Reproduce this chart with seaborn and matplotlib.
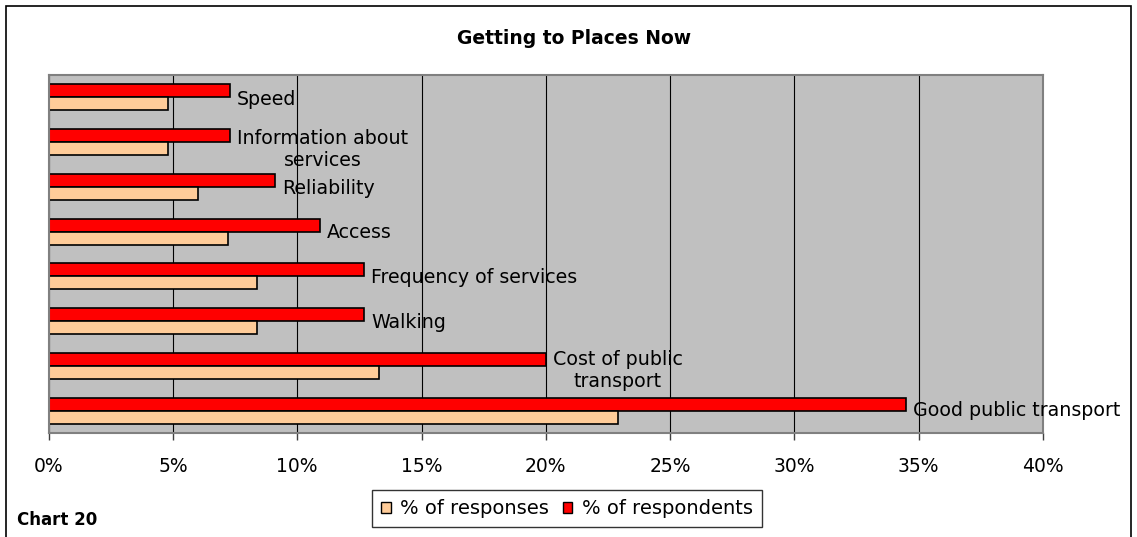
import matplotlib
matplotlib.use('Agg')
import matplotlib.pyplot as plt
import seaborn as sns
import pandas as pd
from matplotlib.patches import Patch, Rectangle
from matplotlib.ticker import PercentFormatter

# values (percent)
categories = ['Speed', 'Information about services', 'Reliability', 'Access',
              'Frequency of services', 'Walking', 'Cost of public transport',
              'Good public transport']
label_text = ['Speed', 'Information about\nservices', 'Reliability', 'Access',
              'Frequency of services', 'Walking', 'Cost of public\ntransport',
              'Good public transport']
respondents = [7.3, 7.3, 9.1, 10.9, 12.7, 12.7, 20.0, 34.5]
responses = [4.8, 4.8, 6.0, 7.2, 8.4, 8.4, 13.3, 22.9]

# vertical nudge of each bar label (points)
label_dy = [-1.5, -5.4, -1.5, -1.0, -1.0, -1.0, -2.9, 0.0]

red = '#FF0000'
peach = '#FFCC99'

df = pd.DataFrame({
    'Category': categories * 2,
    'Value': respondents + responses,
    'Series': ['% of respondents'] * len(categories) + ['% of responses'] * len(categories),
})

fig = plt.figure(figsize=(11.37, 5.37), dpi=100)
ax = fig.add_axes([0.0428, 0.1931, 0.8745, 0.6678])

sns.barplot(data=df, y='Category', x='Value', hue='Series',
            hue_order=['% of respondents', '% of responses'],
            palette={'% of respondents': red, '% of responses': peach},
            orient='h', width=0.58, saturation=1, edgecolor='black',
            linewidth=1.2, legend=False, ax=ax)

ax.set_facecolor('#C0C0C0')
ax.set_xlim(0, 40)
ax.set_xticks(range(0, 41, 5))
ax.xaxis.set_major_formatter(PercentFormatter(xmax=100, decimals=0))
ax.xaxis.grid(True, color='black', linewidth=0.8)
ax.set_axisbelow(True)
ax.set_xlabel('')
ax.set_ylabel('')
for s in ax.spines.values():
    s.set_color('#808080')
    s.set_linewidth(1.5)
ax.tick_params(axis='x', length=5, width=1, color='#404040', pad=12, labelsize=13.5)
ax.tick_params(axis='y', left=False, labelleft=False)

# category names next to the red bars
for i, (lab, val, dy) in enumerate(zip(label_text, respondents, label_dy)):
    ax.annotate(lab, xy=(val, i), xytext=(5, dy), textcoords='offset points',
                ha='left', va='center', multialignment='center', fontsize=13.7)

fig.text(0.5053, 0.9287, 'Getting to Places Now', ha='center', va='center',
         fontsize=13.5, fontweight='bold')
fig.text(0.015, 0.0317, 'Chart 20', ha='left', va='center',
         fontsize=12, fontweight='bold')

handles = [Patch(facecolor=peach, edgecolor='black'),
           Patch(facecolor=red, edgecolor='black')]
leg = fig.legend(handles, ['% of responses', '% of respondents'], loc='center',
                 bbox_to_anchor=(0.4987, 0.0531), ncol=2, frameon=True,
                 fancybox=False, edgecolor='black', handlelength=0.5,
                 handleheight=0.5, handletextpad=0.5, columnspacing=0.7,
                 fontsize=14, borderpad=0.45)
leg.get_frame().set_linewidth(1.0)

# outer chart frame
fig.patches.append(Rectangle((6 / 1137, -0.02), (1131 - 6) / 1137, (537 - 6.3) / 537 + 0.02,
                             transform=fig.transFigure, fill=False,
                             edgecolor='black', linewidth=1.2))

fig.savefig('out.png', dpi=100)
